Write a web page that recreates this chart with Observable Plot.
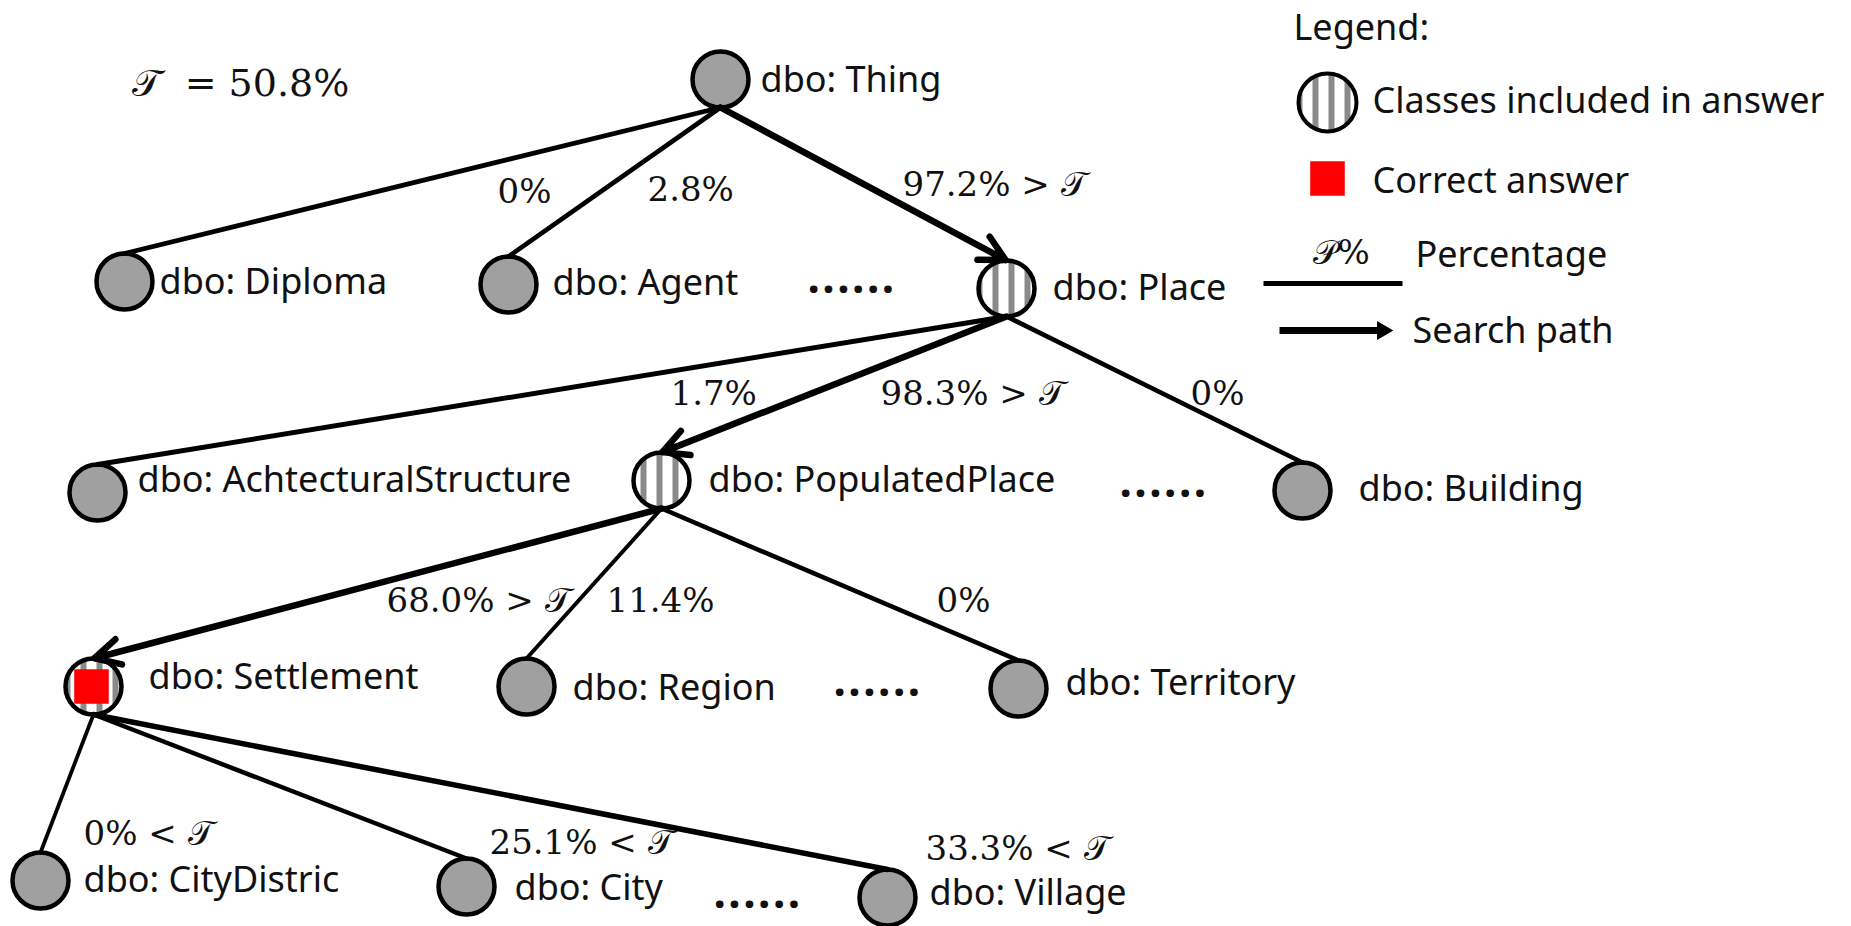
<!DOCTYPE html>
<html>
<head>
<meta charset="utf-8">
<script src="https://cdn.jsdelivr.net/npm/d3@7"></script>
<script src="https://cdn.jsdelivr.net/npm/@observablehq/plot@0.6"></script>
<style>
  html, body { margin: 0; padding: 0; background: #fff; }
</style>
</head>
<body>
<div id="chart"></div>
<script>
// ---------- DATA ----------
const threshold = 50.8;                       // 𝒯
const nodeNames = ["Thing", "Diploma", "Agent", "Place", "AchtecturalStructure", "PopulatedPlace",
  "Building", "Settlement", "Region", "Territory", "CityDistric", "City", "Village"];
const nodeKind = ["plain", "plain", "plain", "included", "plain", "included",
  "plain", "correct", "plain", "plain", "plain", "plain", "plain"];
const edgeParent = [0, 0, 0, 3, 3, 3, 5, 5, 5, 7, 7, 7];
const edgeChild  = [1, 2, 3, 4, 5, 6, 7, 8, 9, 10, 11, 12];
const edgePct    = [0, 2.8, 97.2, 1.7, 98.3, 0, 68.0, 11.4, 0, 0, 25.1, 33.3];
const edgeCmp    = ["", "", ">", "", ">", "", ">", "", "", "<", "<", "<"];
const edgeSearch = [false, false, true, false, true, false, true, false, false, false, false, false];
const legendTitle = "Legend:";
const legendLabels = ["Classes included in answer", "Correct answer", "Percentage", "Search path"];
const ellipsisText = "......";

// ---------- LAYOUT (pixel units of the 1851x926 canvas) ----------
const nodeX  = [720, 124, 508, 1006, 97, 661, 1302, 93, 526, 1018, 40, 466, 887];
const nodeY  = [79, 281, 284, 288, 492, 480, 490, 686, 686, 688, 880, 886, 897];
const labelX = [760, 159, 552, 1052, 137, 708, 1358, 148, 572, 1065, 83, 514, 929];
const labelY = [80, 282, 283, 288, 480, 480, 489, 677, 688, 683, 880, 888, 893];
const edgeLabelX = [497, 647, 902, 670, 880, 1190, 386, 606, 936, 83, 489, 925];
const edgeLabelY = [192, 190, 185, 394, 394, 394, 601, 601, 601, 834, 843, 849];
const edgeWeight = [4.8, 4.6, 6.5, 5, 7, 4.6, 7, 4, 4.6, 3.8, 4.5, 5.5];
const ellipsisX = [807, 1119, 833, 713];
const ellipsisY = [278, 482, 681, 893];

const W = 1851, H = 926, R = 28;

const nodes = nodeNames.map((name, i) => ({
  name, kind: nodeKind[i], x: nodeX[i], y: nodeY[i], lx: labelX[i], ly: labelY[i]
}));
const fmtPct = v => (v === 0 ? "0" : v.toFixed(1)) + "%";
const edges = edgeParent.map((p, i) => ({
  p: nodes[p], c: nodes[edgeChild[i]], pct: edgePct[i], cmp: edgeCmp[i],
  search: edgeSearch[i], w: edgeWeight[i], lx: edgeLabelX[i], ly: edgeLabelY[i]
}));
const ellipses = ellipsisX.map((x, i) => ({x, y: ellipsisY[i]}));

const legendSym = [{x: 1327, y: 102}];
const legendSq = [{x: 1327, y: 178}];
const legendText = [
  {x: 1372, y: 101, t: legendLabels[0]},
  {x: 1372, y: 181, t: legendLabels[1]},
  {x: 1415, y: 255, t: legendLabels[2]},
  {x: 1412, y: 331, t: legendLabels[3]}
];

const sans = "'Noto Sans', 'Open Sans', sans-serif";
const serif = "'DejaVu Serif', 'DejaVu Sans', serif";
const edgeEnds = {
  x1: d => d.p.x, y1: d => d.p.y + R, x2: d => d.c.x, y2: d => d.c.y - R
};

const chart = Plot.plot({
  width: W, height: H, margin: 0,
  x: {domain: [0, W], range: [0, W], axis: null},
  y: {domain: [0, H], range: [0, H], axis: null},
  style: {background: "#fff", overflow: "visible"},
  marks: [
    // nodes
    Plot.dot(nodes, {filter: d => d.kind === "plain", x: "x", y: "y", r: R, fill: "#a0a0a0", stroke: "#000", strokeWidth: 4.5}),
    Plot.dot(nodes, {filter: d => d.kind !== "plain", x: "x", y: "y", r: R, fill: "url(#stripes)", stroke: "#000", strokeWidth: 4.5}),
    Plot.dot(nodes, {filter: d => d.kind === "correct", x: d => d.x - 2, y: "y", symbol: "square", r: 19.5, fill: "#ff0000"}),
    // edges
    Plot.link(edges, {filter: d => !d.search, ...edgeEnds, stroke: "#000", strokeWidth: d => d.w, strokeLinecap: "round"}),
    Plot.arrow(edges, {filter: d => d.search, ...edgeEnds, stroke: "#000", strokeWidth: 6.5, headLength: 6.5, headAngle: 55, insetEnd: 1}),
    // labels
    Plot.text(nodes, {x: "lx", y: "ly", text: d => "dbo: " + d.name, textAnchor: "start", fontSize: 36, fontFamily: sans, fill: "#111"}),
    Plot.text(edges, {x: "lx", y: "ly", text: d => fmtPct(d.pct) + (d.cmp ? " " + d.cmp + " 𝒯" : ""), textAnchor: "start", fontSize: 34, fontFamily: serif, fill: "#111"}),
    Plot.text(ellipses, {x: "x", y: "y", text: () => ellipsisText, textAnchor: "start", fontSize: 44, fontWeight: "bold", fontFamily: sans, fill: "#111"}),
    Plot.text([{x: 131, y: 83}], {x: "x", y: "y", text: () => "𝒯  = " + threshold.toFixed(1) + "%", textAnchor: "start", fontSize: 38, fontFamily: serif, fill: "#111"}),
    // legend
    Plot.text([{x: 1293, y: 28}], {x: "x", y: "y", text: () => legendTitle, textAnchor: "start", fontSize: 36, fontFamily: sans, fill: "#111"}),
    Plot.dot(legendSym, {x: "x", y: "y", r: 29, fill: "url(#stripes)", stroke: "#000", strokeWidth: 4}),
    Plot.dot(legendSq, {x: "x", y: "y", symbol: "square", r: 19.5, fill: "#ff0000"}),
    Plot.text([{x: 1312, y: 253}], {x: "x", y: "y", text: () => "𝒫%", textAnchor: "start", fontSize: 34, fontFamily: serif, fill: "#111"}),
    Plot.link([{x1: 1263, x2: 1402, y: 283}], {x1: "x1", x2: "x2", y1: "y", y2: "y", stroke: "#000", strokeWidth: 5}),
    Plot.link([{x1: 1279, x2: 1380, y: 330}], {x1: "x1", x2: "x2", y1: "y", y2: "y", stroke: "#000", strokeWidth: 7}),
    Plot.dot([{x: 1382, y: 330}], {x: "x", y: "y", symbol: "triangle2", r: 9, rotate: 90, fill: "#000"}),
    Plot.text(legendText, {x: "x", y: "y", text: "t", textAnchor: "start", fontSize: 36, fontFamily: sans, fill: "#111"})
  ]
});

// stripe pattern definition
const svg = d3.select(chart);
const defs = svg.insert("defs", ":first-child");
const pat = defs.append("pattern").attr("id", "stripes").attr("patternUnits", "userSpaceOnUse")
  .attr("width", 16).attr("height", 16);
pat.append("rect").attr("width", 16).attr("height", 16).attr("fill", "#fff");
pat.append("rect").attr("x", 0).attr("width", 6).attr("height", 16).attr("fill", "#8a8a8a");

svg.selectAll("text").filter(function () { return this.textContent === ellipsisText; })
  .style("letter-spacing", "2.5px");

document.getElementById("chart").appendChild(chart);
</script>
</body>
</html>
